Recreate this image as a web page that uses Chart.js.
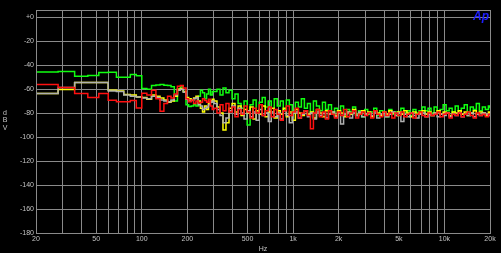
<!DOCTYPE html>
<html>
<head>
<meta charset="utf-8">
<script src="https://cdn.jsdelivr.net/npm/chart.js@4/dist/chart.umd.min.js"></script>
<style>
  html, body { margin: 0; padding: 0; background: #000; }
  canvas { display: block; }
</style>
</head>
<body>
<canvas id="fft" width="501" height="253"></canvas>
<script>
// ---------- DATA ----------
// FFT bin frequencies (Hz) - 8 Hz bins at the low end, thinned out above 300 Hz
const freqs = [
  20, 28, 36, 44, 52, 60, 68, 76, 84, 92,
  100, 108, 116, 124, 132, 140, 148, 156, 164, 172,
  180, 188, 196, 204, 212, 220, 228, 236, 244, 252,
  260, 268, 276, 284, 292,
  300, 314, 329, 344, 360, 377, 395, 413, 433,
  453, 474, 497, 520, 544, 570, 597, 625, 654, 685, 717,
  750, 786, 823, 861, 902, 944, 988, 1035, 1083, 1134,
  1187, 1243, 1301, 1362, 1426, 1493, 1563, 1636, 1713, 1793,
  1878, 1966, 2058, 2155, 2256, 2362, 2473, 2589, 2711, 2838,
  2971, 3111, 3257, 3410, 3570, 3738, 3913, 4097, 4290, 4491,
  4702, 4923, 5154, 5396, 5650, 5915, 6193, 6484, 6789, 7108,
  7442, 7791, 8157, 8541, 8942, 9362, 9802, 10263, 10745, 11250,
  11779, 12332, 12912, 13519, 14154, 14819, 15516, 16245, 17009, 17808,
  18645, 19522, 20000
];

const greenDb = [
  -45.8, -45.3, -49.2, -48.6, -46.2, -46.0, -50.0, -50.0, -47.8, -48.9,
  -59.5, -60.0, -57.0, -56.5, -56.2, -56.8, -57.0, -58.0, -70.0, -60.0,
  -58.0, -62.0, -73.0, -74.5, -74.0, -73.0, -74.0, -66.0, -61.0, -63.0,
  -68.0, -64.0, -60.0, -65.0, -62.0,
  -62, -60, -65, -59, -63, -61, -68, -64, -72,
  -76, -70, -90, -73, -69, -78, -71, -67, -75, -70, -79,
  -68, -74, -70, -77, -69, -73, -80, -71, -75, -68,
  -76, -72, -79, -70, -74, -78, -71, -77, -73, -81,
  -76, -80, -74, -82, -77, -79, -75, -81, -78, -83,
  -77, -81, -79, -76, -82, -78, -80, -83, -77, -81,
  -79, -82, -76, -80, -78, -82, -77, -80, -78, -75,
  -78, -76, -80, -75, -79, -77, -73, -78, -76, -79,
  -74, -78, -76, -73, -79, -75, -77, -72, -78, -75,
  -77, -74, -76
];

const redDb = [
  -56.1, -58.6, -63.6, -67.0, -63.6, -69.2, -70.6, -70.6, -69.5, -75.8,
  -63.5, -65.0, -61.0, -68.0, -78.5, -72.0, -66.0, -67.5, -64.0, -57.5,
  -57.0, -59.0, -68.0, -70.5, -69.0, -72.0, -70.0, -71.5, -71.0, -68.0,
  -69.5, -71.0, -68.5, -74.0, -77.0,
  -76, -80, -73, -78, -72, -79, -75, -83, -77,
  -81, -74, -79, -84, -76, -80, -73, -82, -78, -75, -83,
  -77, -81, -86, -78, -74, -82, -79, -76, -84, -80,
  -78, -82, -93, -80, -77, -83, -79, -85, -78, -81,
  -84, -79, -82, -77, -83, -80, -78, -84, -81, -79,
  -82, -80, -84, -78, -81, -83, -79, -82, -80, -84,
  -80, -82, -79, -83, -81, -80, -84, -81, -79, -82,
  -83, -80, -82, -81, -79, -83, -81, -80, -84, -81,
  -82, -80, -83, -81, -79, -82, -84, -80, -82, -81,
  -83, -81, -82
];

const yellowDb = [
  -63.6, -60.3, -54.4, -54.4, -54.4, -61.0, -61.5, -64.5, -65.0, -66.5,
  -67.0, -68.5, -65.0, -66.0, -67.5, -69.0, -71.0, -70.0, -66.0, -60.0,
  -59.5, -62.0, -67.0, -68.0, -69.0, -67.5, -66.0, -70.0, -76.0, -79.0,
  -74.0, -77.0, -72.0, -70.0, -68.5,
  -70, -75, -80, -94, -88, -76, -72, -79, -74,
  -82, -77, -80, -75, -85, -78, -81, -74, -83, -79, -76,
  -84, -78, -81, -76, -83, -79, -86, -77, -80, -82,
  -78, -81, -79, -84, -77, -80, -83, -78, -81, -79,
  -82, -78, -80, -83, -79, -81, -77, -82, -80, -78,
  -81, -79, -83, -78, -80, -82, -79, -81, -78, -80,
  -82, -79, -81, -78, -80, -83, -79, -81, -80, -78,
  -81, -79, -82, -80, -78, -81, -79, -80, -82, -79,
  -80, -78, -81, -79, -82, -80, -78, -81, -79, -80,
  -82, -79, -80
];

const grayDb = [
  -63.6, -58.6, -54.4, -54.4, -54.4, -61.5, -62.0, -65.0, -66.0, -66.5,
  -67.5, -68.0, -66.0, -67.0, -69.0, -70.0, -70.5, -69.0, -65.0, -61.0,
  -60.0, -62.5, -68.5, -70.0, -69.5, -68.0, -67.0, -73.0, -74.0, -77.0,
  -76.0, -75.0, -73.0, -71.0, -70.0,
  -72, -77, -82, -88, -84, -78, -74, -81, -76,
  -80, -85, -78, -83, -79, -86, -77, -82, -80, -87, -79,
  -83, -80, -85, -78, -82, -88, -80, -79, -84, -81,
  -78, -83, -80, -85, -79, -82, -80, -84, -81, -79,
  -83, -80, -89, -81, -79, -84, -80, -82, -79, -83,
  -81, -80, -82, -79, -84, -81, -80, -83, -81, -79,
  -82, -80, -87, -81, -83, -80, -82, -84, -81, -80,
  -83, -81, -82, -80, -83, -81, -82, -80, -83, -81,
  -82, -80, -83, -81, -82, -80, -83, -81, -82, -80,
  -81, -82, -81
];

// grid lines on the log axis and the ones that get a label
const xGrid = [
  20, 30, 40, 50, 60, 70, 80, 90, 100,
  200, 300, 400, 500, 600, 700, 800, 900, 1000,
  2000, 3000, 4000, 5000, 6000, 7000, 8000, 9000, 10000, 20000
];
const xTickVals = [20, 50, 100, 200, 500, 1000, 2000, 5000, 10000, 20000];
const xTickText = ["20", "50", "100", "200", "500", "1k", "2k", "5k", "10k", "20k"];

const yTickVals = [0, -20, -40, -60, -80, -100, -120, -140, -160, -180];
const yTickText = ["+0", "-20", "-40", "-60", "-80", "-100", "-120", "-140", "-160", "-180"];

// ---------- STYLE ----------
const GRID = "#8a8a8a";
const TXT  = "#c4c4c4";
const FONT = { family: "'Liberation Sans Narrow', 'Liberation Sans', Arial, sans-serif", size: 7 };

function pts(vals) {
  return freqs.map((f, i) => ({ x: f, y: vals[i] }));
}

function trace(label, vals, color) {
  return {
    label,
    data: pts(vals),
    borderColor: color,
    borderWidth: 1.5,
    pointRadius: 0,
    stepped: true,
    fill: false,
  };
}

// frame, y-axis unit and logo
const extras = {
  id: "extras",
  afterDraw(chart) {
    const { ctx, chartArea: a } = chart;
    ctx.save();
    ctx.strokeStyle = GRID;
    ctx.lineWidth = 1;
    ctx.strokeRect(a.left + 0.5, a.top + 0.5, a.right - a.left, a.bottom - a.top);

    ctx.fillStyle = TXT;
    ctx.font = "7px " + FONT.family;
    ctx.textAlign = "center";
    ctx.textBaseline = "middle";
    ["d", "B", "V"].forEach((ch, i) => ctx.fillText(ch, 5, 113 + i * 7.5));

    ctx.fillStyle = "#1e1eff";
    ctx.font = "italic bold 12px 'Liberation Sans', Arial, sans-serif";
    ctx.textAlign = "right";
    ctx.fillText("Ap", a.right - 1, a.top + 7);
    ctx.restore();
  }
};

// first dataset is drawn on top
const chart = new Chart(document.getElementById("fft").getContext("2d"), {
  type: "line",
  data: {
    datasets: [
      trace("Ch 4", redDb, "#ff1010"),
      trace("Ch 2", grayDb, "#b0b0b0"),
      trace("Ch 3", yellowDb, "#ffff00"),
      trace("Ch 1", greenDb, "#10ff10"),
    ],
  },
  options: {
    responsive: false,
    animation: false,
    layout: { padding: { top: 10, right: 11, left: 0, bottom: 0 } },
    plugins: {
      legend: { display: false },
      tooltip: { enabled: false },
    },
    scales: {
      x: {
        type: "logarithmic",
        min: 20,
        max: 20000,
        afterBuildTicks: (s) => { s.ticks = xGrid.map((v) => ({ value: v })); },
        afterFit: (s) => { s.height = 20; },
        ticks: {
          autoSkip: false,
          maxRotation: 0,
          padding: 2,
          color: TXT,
          font: FONT,
          callback: (v) => {
            const i = xTickVals.indexOf(v);
            return i >= 0 ? xTickText[i] : "";
          },
        },
        grid: { color: GRID, lineWidth: 1, drawTicks: false },
        border: { color: GRID },
        title: { display: true, text: "Hz", color: TXT, font: FONT, padding: 0 },
      },
      y: {
        min: -180,
        max: 6,
        afterBuildTicks: (s) => { s.ticks = yTickVals.map((v) => ({ value: v })); },
        afterFit: (s) => { s.width = 36; },
        ticks: {
          padding: 2,
          color: TXT,
          font: FONT,
          callback: (v) => {
            const i = yTickVals.indexOf(v);
            return i >= 0 ? yTickText[i] : "";
          },
        },
        grid: { color: GRID, lineWidth: 1, drawTicks: false },
        border: { color: GRID },
      },
    },
  },
  plugins: [extras],
});
</script>
</body>
</html>
